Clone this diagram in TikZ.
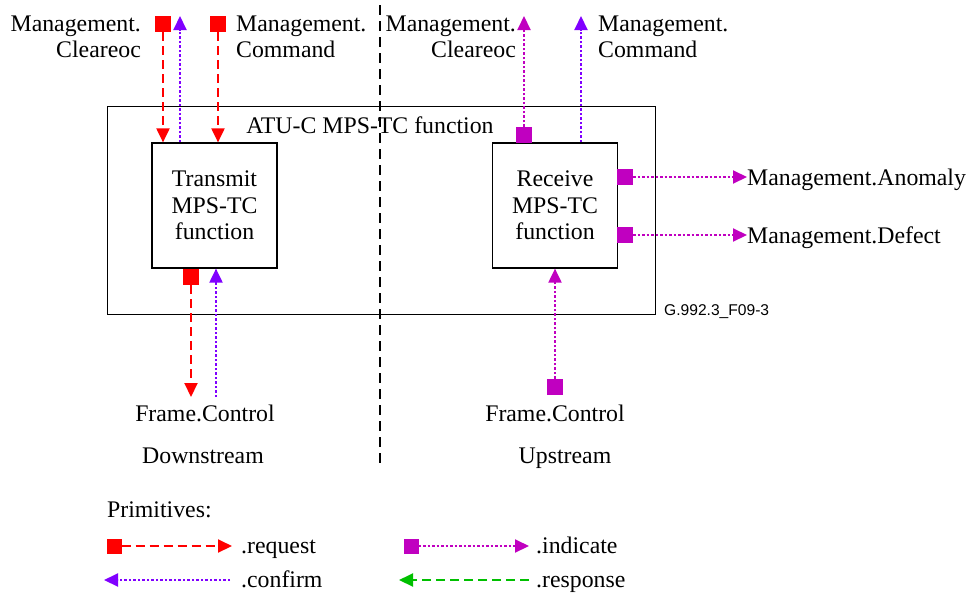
\documentclass[tikz,border=0pt]{standalone}
\usepackage{fontspec}
\setmainfont{Liberation Serif}
\newfontfamily\arialfont{Liberation Sans}
\usetikzlibrary{arrows.meta}
\definecolor{req}{RGB}{255,0,0}
\definecolor{conf}{RGB}{128,0,255}
\definecolor{ind}{RGB}{192,0,192}
\definecolor{resp}{RGB}{0,192,0}
\begin{document}
\begin{tikzpicture}[x=1pt,y=-1pt,
  lbl/.style={font=\fontsize{23.8}{26.5}\selectfont, inner sep=0pt},
  fnbox/.style={draw, line width=1.2pt, minimum width=125pt, minimum height=125pt, align=center, inner sep=0pt, font=\fontsize{23.8}{26.5}\selectfont},
  sq/.style={fill=#1, minimum size=16pt, inner sep=0pt},
  tip/.style={-{Triangle[length=14pt,width=13pt]}},
  reqline/.style={req, line width=2pt, dash pattern=on 9pt off 5pt, tip},
  confline/.style={conf, line width=2pt, dash pattern=on 2.5pt off 2pt, tip},
  indline/.style={ind, line width=2pt, dash pattern=on 2.5pt off 2pt, tip},
  respline/.style={resp, line width=2pt, dash pattern=on 9pt off 5pt, tip},
]
\path[use as bounding box] (0,0) rectangle (968,592);

% outer box and title
\node[draw, line width=1.2pt, minimum width=548pt, minimum height=208pt, anchor=north west, inner sep=0pt] (outer) at (107,106) {};
\node[lbl] (title) at (370,125) {ATU-C MPS-TC function};

% inner function boxes
\node[fnbox] (tx) at (214.5,205.5) {Transmit\\MPS-TC\\function};
\node[fnbox] (rx) at (555,205.5) {Receive\\MPS-TC\\function};

% divider
\coordinate (dtop) at (380,5);
\coordinate (dbot) at (380,465);
\draw[line width=1.4pt, dash pattern=on 10pt off 6pt] (dtop) -- (dbot);

% top-left labels
\node[lbl, anchor=base east] (tlm) at (141,31) {Management.};
\node[lbl, anchor=base east] (tlc) at (141,57) {Cleareoc};
\node[lbl, anchor=base west] (tcm) at (236,31) {Management.};
\node[lbl, anchor=base west] (tcc) at (236,57) {Command};

% top-left primitives
\node[sq=req] (sq1) at (163,24) {};
\node[sq=req] (sq2) at (218,24) {};
\coordinate (c1) at (180,16);
\draw[reqline] (sq1) -- (sq1 |- tx.north);
\draw[reqline] (sq2) -- (sq2 |- tx.north);
\draw[confline] (c1 |- tx.north) -- (c1);

% top-right labels
\node[lbl, anchor=base east] (trm) at (516,31) {Management.};
\node[lbl, anchor=base east] (trc) at (516,57) {Cleareoc};
\node[lbl, anchor=base west] (trm2) at (598,31) {Management.};
\node[lbl, anchor=base west] (trc2) at (598,57) {Command};

% top-right primitives
\node[sq=ind] (sq3) at (524,135) {};
\coordinate (i1) at (524,16);
\coordinate (c2) at (581,16);
\draw[indline] (sq3) -- (i1);
\draw[confline] (c2 |- rx.north) -- (c2);

% right side outputs
\node[sq=ind] (sq4) at (625,177) {};
\node[sq=ind] (sq5) at (625,235) {};
\node[lbl, anchor=base west] (anom) at (747,185) {Management.Anomaly};
\node[lbl, anchor=base west] (defc) at (747,243) {Management.Defect};
\draw[indline] (sq4) -- (sq4 -| anom.west);
\draw[indline] (sq5) -- (sq5 -| defc.west);

% figure id
\node[inner sep=0pt, anchor=base west, font=\arialfont\fontsize{15.6}{18}\selectfont] (fid) at (664,315) {G.992.3\_F09-3};

% bottom-left primitives
\node[sq=req] (sq6) at (191,277) {};
\coordinate (b1) at (191,397);
\coordinate (b2) at (216,397);
\draw[reqline] (sq6) -- (b1);
\draw[confline] (b2) -- (b2 |- tx.south);
\node[lbl, anchor=base] (fcl) at (205,421) {Frame.Control};
\node[lbl, anchor=base] (dn) at (203,463) {Downstream};

% bottom-right primitive
\node[sq=ind] (sq7) at (555,387) {};
\draw[indline] (sq7) -- (sq7 |- rx.south);
\node[lbl, anchor=base] (fcr) at (555,421) {Frame.Control};
\node[lbl, anchor=base] (up) at (565,463) {Upstream};

% legend
\node[lbl, anchor=base west] (prim) at (107,517) {Primitives:};
\node[sq=req, minimum size=15pt] (lsq1) at (114,546) {};
\node[lbl, anchor=base west] (lreq) at (241,553) {.request};
\draw[reqline, shorten >=9pt] (lsq1) -- (lsq1 -| lreq.west);
\node[sq=ind, minimum size=15pt] (lsq2) at (411,546) {};
\node[lbl, anchor=base west] (lind) at (536,553) {.indicate};
\draw[indline, shorten >=7pt] (lsq2) -- (lsq2 -| lind.west);
\coordinate (lc) at (104,580);
\node[lbl, anchor=base west] (lconf) at (241,587) {.confirm};
\draw[confline, shorten <=11pt] (lc -| lconf.west) -- (lc);
\coordinate (lr) at (399,580);
\node[lbl, anchor=base west] (lresp) at (536,587) {.response};
\draw[respline, shorten <=7pt] (lr -| lresp.west) -- (lr);
\end{tikzpicture}
\end{document}
